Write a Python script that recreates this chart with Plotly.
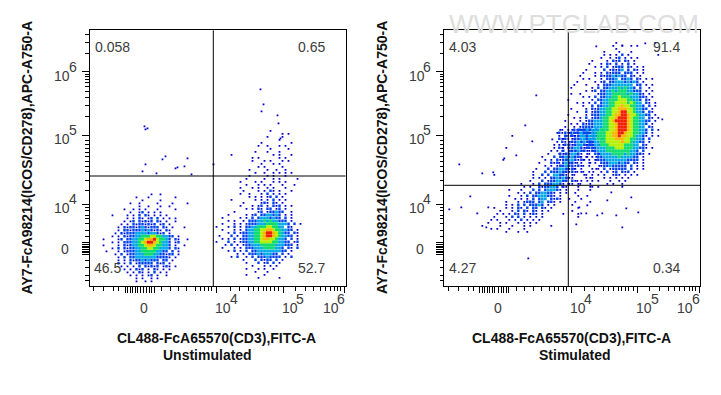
import plotly.graph_objects as go

# ---- Density: digits are colour levels (1 sparse blue .. 7 red), '.' is empty ----
UNSTIM_NEG = [
"..................1..1.........",
".............1...1........1....",
"...............1.....1.........",
"...........1..1.....1....1....1",
"..............1..1...1..1......",
".........1..1.1.1...1.....1....",
"...........1..12.1.1.1.........",
".....1....1.1.2.21.1.1.1.......",
"..........1.1.21.12.2.1.1.1....",
".........1.12.21212.21.1..1....",
"........1.1.21221212.12.1......",
".......1.212212321222.21.1...1.",
".......1.2212223232121.21......",
"......1.212223333233212.1......",
".....1.1.21223344455443322.1...",
"..1....12.223344566754432.21..1",
".....1.1.2223345677654332.12...",
"..1....1.2123344566544332.1..1.",
".....1.2.2122334455443332.21...",
"...1...1.122233444443322.2.1...",
"......1.2.1223334443322122.1...",
".......1.2.22333333322221.1....",
".......1.1.2122323222.22.1.....",
".......2.1.2.122222.212.1......",
"........1.1.1.2.21212.121.1....",
".........1.1.212.1.21.1.1......",
"..........1.1.21.1.2.1.1.......",
"...........1.1.1.12.1..1.......",
".............1.1..1.1..........",
".............1..1.1............",
]
UNSTIM_POS = [
"...................1............",
".......................1.1......",
"..................1....1........",
"......................1.........",
"................1.........1.....",
"...............1..1...1.1.......",
"...................1.....1......",
"..............1...1...1.........",
"......1.............1.1...1.....",
".............1.1......1.1.......",
".............1...1.1...1.1......",
"................1...1.1.........",
"...............1.1.....1........",
"............1.....1..1..1.......",
"..............1..1..1.1.1.1.....",
"............1.....1.1...1.......",
"...........1.....1..1.1.....1...",
".........1....1.1...1.1.1.......",
"...........1...1.1.1...1...1....",
".........1...1.1..1.1...1.......",
"..........1....1.1.21.1...1.....",
".........1..1...1.2.1.1.1.......",
"............1.1.1.12.2.1........",
"......1.......1.1.1.2.1.1.......",
"..........1.....121.21.1........",
".........1...1.12.1.212.1.1.....",
"...........1.1.21.22.12.1.......",
".......1.......12.122322..1.....",
".....1.....1.12.2233232.1.1.....",
"...1.....1.1.2.23332322.2.1.....",
".....1.1..1.2223343433222.1.....",
"...1...1.1.122233344443332.2.1..",
".1...1.2.1.2233444554433.21.....",
"...1...1.1.2334455665443322.1...",
".....1.2.12233445677654322.21...",
"..1...2.1.22334456776543322.1...",
"...1.1.2.1223344566554332.2.1...",
".1...2.1.12233445555443322.12...",
"....1.2.1.12233344444333222.1...",
"...1...1.1.2223334444332.21.2...",
".....1.2.1.2.223333333322.1.....",
"........1.1.2223233322.2.1......",
"......1.2..1.2.22232222.1.2.....",
"..........1...2.2122.2.1........",
"...........1...2.12.2.1.........",
".............1...1.1.1..........",
"...........1...1.1..1...........",
"..............1...1.............",
"...........1.....1..............",
"...............1......1.........",
]
STIM_MAIN = [
"...................1............1..",
"..................1..1..1.1........",
"...................1...............",
"...............1....1...1..........",
"...............1.1.1.2.1.........1.",
"..............1..1.12.1.1.1........",
"...........1....1.212.21.1.........",
"..........1...1.21.2.1.2.1.........",
"............1.1.2.1222.21.1.1......",
".........1.....2.12123.2.21.1......",
"........1...1.1.21222.222.1.1......",
".......1....1.212232322.21.1.......",
"........1.1...1.2223.2232.21.1.1...",
"......1.....1.12.2233323232.1......",
".....1...1...1.2223333333.22.1.1...",
"....1......1.2.22333434332.2..1....",
".........1.12.22334344433222.1.1...",
"....1..1.....1223344444343321.1....",
"........1.1.2.2233445444333221.1...",
"...1.......1.223344455544332.21....",
"......1.1.1.2.23344555545433.21.1..",
"........1..2.2233445565544332.2.1..",
"....1....1.2123344556665543322.1...",
"......1..2.122334455677554332.21...",
"...1.....1.22233445667765543322.1..",
".....1.1.2.122344556777654433.21.1.",
"..1....1.1223334456777765443322.1..",
"....1.1.2122333445567776544332.1...",
"..1..1.1222233344556777654433.21...",
".1.1.2122223334445567776544332.2.1.",
"212122212223344455667765544332.1...",
"1.2121.12233344455667665543321.1.1.",
"2121.1.1.23334445556665544332.2....",
".21.1...1.2233445555565543322.1....",
"1.21.1.1.122334445555544433.21.....",
"21.1.....122233344455544433221.1...",
".1..1.1.1.12233344444444332.2......",
"1.1...1...1.22333344443433221.1....",
".1.1.1.1.1.1.22333334333322.1......",
"...1....1.1.122233333332222.1......",
"1...1.1...1.1.2223332322.21.1......",
".1.1....1.1...122322222.2.1.1......",
"...1.1.....1.1.2.122222.2.1.1......",
"..1...1.1.1...1.2.12.212.1.........",
".1...1...1.1.1.1..121.1.1.1........",
"...1.....1.1...1.1.1.1.1...........",
"..1...1....1.1...1..1.1............",
"...1...1........1.1..1.............",
".1.........1.1.......1.............",
]
STIM_TAIL = [
"............................1...1.2123212.1.",
"...........................1...1.12322121..",
"............1.................1.212332121..",
".............................1..12233212..1",
"...........................1...122323221...",
"..........................1..1.212332121.1.",
"..........1...............1..1.2233212.1...",
".........................1.1.2.2223221.1...",
"........................1...21223321.1...1.",
"......................1...2.22323221.1..1..",
".........1.............1.1.2122332121...1..",
".....................1...212.23221.1..1....",
".......................1.1.122322121.....1.",
"....................1...2.22332121.1....1..",
"...................1...2.222322121.1...1...",
"......1............1..2.2.33221.1...1......",
"...................1.1.1.22323211.....1....",
"..................1...2.1223322.21.1.1.....",
"...............1...1.2.2223321.11.1...1....",
"................1.1..2122332.21...1...1....",
"...........1...1...2.2.233321.1...1...1....",
"..............1.1.2.2233221.1.1..1.........",
"...........1...1.2.22333221.1.....1..1.....",
".............1.1.1.2.233.2121..1...1.......",
"..........1...1.1222.23.221.1....1....1....",
"..........1.1.2.2.22232.1.1.....1..........",
"......1...1.1.21.2.22.21.1........1........",
"........1...1.2.21.21.1.1.......1..........",
".......1.1.1.21.2.121.1......1....1........",
"......1...1.2.2.1.1.1.1...........1........",
".....1.1...1.1.2.1.1.1.....................",
"....1...1.1...1.1.1.1......................",
"..1.....1...1...1.1......1.................",
".....1.1...1....1..........................",
"..........1...1..1.........................",
]

# Isolated events, in display channels (0-256 on each axis)
UNSTIM_EVENT_X = [55, 56, 58, 76, 56, 73, 95, 88, 53, 67, 86, 98, 102, 124, 171, 174, 188, 172, 191, 189]
UNSTIM_EVENT_Y = [160, 157, 158, 130, 122, 127, 120, 119, 115, 113, 118, 128, 112, 122, 197, 182, 171, 175, 148, 163]
STIM_EVENT_X = [15, 38, 49, 60, 81, 72, 88, 92, 108, 5, 17, 26, 33, 44, 84, 42,
                132, 135, 178, 194, 182, 187, 158, 143, 167, 137, 172, 142, 153, 163, 218, 201, 178, 152]
STIM_EVENT_Y = [122, 113, 114, 128, 161, 131, 145, 191, 147, 77, 79, 90, 73, 79, 28, 59,
                62, 79, 59, 74, 78, 89, 73, 81, 94, 73, 71, 73, 71, 86, 167, 243, 241, 240]

X_ZERO_TICKS = [35.5, 37.8, 40.5, 43.2, 45.5, 47.8, 50.5, 53.8, 57.2, 59.5, 62.2, 64.5]
X_DECADE_TICKS = [127.2, 193.5, 254.8]
X_MINOR_TICKS = [3.8, 13.8, 23.8, 28.8, 72.2, 80.5, 88.8, 97.2, 105.5, 110.5, 114.5, 118.8, 122.2,
                 140.5, 149.8, 158.8, 163.8, 168.8, 173.8, 177.2, 181.2, 184.5, 188.8,
                 205.5, 215.5, 223.8, 230.5, 235.5, 240.5, 244.8, 247.8, 251.2]
Y_ZERO_TICKS = [32, 33.5, 35, 37, 38.5, 40, 41.5, 43.5]
Y_DECADE_TICKS = [82.3, 151.3, 214.6]
Y_MINOR_TICKS = [6, 11.3, 19, 26, 49.6, 56.3, 63, 68, 71.3, 76.3, 79,
                 96, 106, 115, 120, 125, 130, 134, 138, 142, 146,
                 170, 181, 189, 195, 200, 204, 207, 210, 212,
                 233, 244, 252]

X_TITLE = "CL488-FcA65570(CD3),FITC-A"
Y_TITLE = "AY7-FcA98214(ICOS/CD278),APC-A750-A"
SUBTITLES = ["Unstimulated", "Stimulated"]
QUADRANT_UNSTIM = ["0.058", "0.65", "46.5", "52.7"]
QUADRANT_STIM = ["4.03", "91.4", "4.27", "0.34"]
GATE_UNSTIM = (123.8, 110.3)
GATE_STIM = (124, 101)

W, H = 721, 395
PANELS = [(89.5, 345.5), (444.3, 700.3)]
TOP, BOTTOM = 30.3, 286.3
CELL = 3
LEVEL_COLOR = {1: "#0000d0", 2: "#0040f0", 3: "#00a8e8", 4: "#10dc70", 5: "#b4f000", 6: "#ffb400", 7: "#f01e00"}
LEVEL_SIZE = {1: 1.8, 2: 2.4, 3: 2.8, 4: 3.1, 5: 3.1, 6: 3.1, 7: 3.1}


def px(x):
    return x / W


def py(y):
    return 1 - y / H


def density_cells(rows, left, top):
    cells = {k: ([], []) for k in LEVEL_COLOR}
    for r, row in enumerate(rows):
        for c, ch in enumerate(row):
            if ch != ".":
                cells[int(ch)][0].append(left + c * CELL)
                cells[int(ch)][1].append(top - r * CELL)
    return cells


fig = go.Figure()


def add_density(blocks, events, xa, ya):
    merged = {k: ([], []) for k in LEVEL_COLOR}
    merged[1][0].extend(events[0])
    merged[1][1].extend(events[1])
    for rows, left, top in blocks:
        cells = density_cells(rows, left, top)
        for k in merged:
            merged[k][0].extend(cells[k][0])
            merged[k][1].extend(cells[k][1])
    for k in sorted(merged):
        fig.add_trace(go.Scatter(x=merged[k][0], y=merged[k][1], mode="markers", xaxis=xa, yaxis=ya,
                                 showlegend=False, hoverinfo="skip",
                                 marker=dict(symbol="square", size=LEVEL_SIZE[k], color=LEVEL_COLOR[k],
                                             line=dict(width=0))))


add_density([(UNSTIM_NEG, 8, 92), (UNSTIM_POS, 124, 155.5)], (UNSTIM_EVENT_X, UNSTIM_EVENT_Y), "x", "y")
add_density([(STIM_TAIL, 32, 156.5), (STIM_MAIN, 115, 243.5)], (STIM_EVENT_X, STIM_EVENT_Y), "x2", "y2")

axis_common = dict(range=[0, 256], showgrid=False, zeroline=False, showline=True, linecolor="black", linewidth=1,
                   mirror=True, ticks="outside", showticklabels=False, tickcolor="black")
x_axis = dict(axis_common, tickmode="array", tickvals=X_ZERO_TICKS + X_DECADE_TICKS, ticklen=6, tickwidth=1.2,
              minor=dict(tickmode="array", tickvals=X_MINOR_TICKS, ticks="outside", ticklen=3.5, tickwidth=1,
                         tickcolor="black", showgrid=False))
y_axis = dict(axis_common, tickmode="array", tickvals=Y_ZERO_TICKS + Y_DECADE_TICKS, ticklen=7, tickwidth=1.2,
              minor=dict(tickmode="array", tickvals=Y_MINOR_TICKS, ticks="outside", ticklen=3.5, tickwidth=1,
                         tickcolor="black", showgrid=False))

ann = []
TEXT = "#3c3c3c"


def label(x, y, text, anchor="center", size=14, color=TEXT, bold=False, angle=0):
    ann.append(dict(xref="paper", yref="paper", x=px(x), y=py(y), text=f"<b>{text}</b>" if bold else text,
                    showarrow=False, xanchor=anchor, yanchor="middle", textangle=angle, borderpad=0, borderwidth=0,
                    font=dict(family="Liberation Sans, Arial, sans-serif", size=size, color=color)))


def power(x, y, n):
    label(x, y, "10", "left")
    label(x + 14.5, y - 9, str(n), "left")


for i, (left, right) in enumerate(PANELS):
    dx = left - PANELS[0][0]
    label(143.5 + dx, 308, "0")
    power(215 + dx, 308, 4)
    power(281.5 + dx, 308, 5)
    power(322.5 + dx, 308, 6)
    power(54 + dx, 76, 6)
    power(54 + dx, 139, 5)
    power(54 + dx, 208, 4)
    label(69 + dx, 249, "0", "right")
    q = QUADRANT_UNSTIM if i == 0 else QUADRANT_STIM
    label(94.5 + dx, 47, q[0], "left")
    label(325 + dx, 47, q[1], "right")
    label(94 + dx, 268, q[2], "left")
    label(325 + dx, 268, q[3], "right")
    label(217 + dx, 338, X_TITLE, size=14, color="#111111", bold=True)
    label(207 if i == 0 else 575, 355, SUBTITLES[i], size=14, color="#111111", bold=True)
    label(27 + (dx - 0.2), 157.5, Y_TITLE, size=14, color="#111111", bold=True, angle=-90)
label(574, 24, "WWW.PTGLAB.COM", size=26, color="#dedede")

shapes = []
for (gx, gy), xr, yr in ((GATE_UNSTIM, "x", "y"), (GATE_STIM, "x2", "y2")):
    shapes.append(dict(type="line", xref=xr, yref="paper", x0=gx, x1=gx, y0=py(BOTTOM), y1=py(TOP),
                       line=dict(color="black", width=1)))
    shapes.append(dict(type="line", xref="paper", yref=yr, y0=gy, y1=gy, x0=px(PANELS[0 if xr == "x" else 1][0]),
                       x1=px(PANELS[0 if xr == "x" else 1][1]), line=dict(color="black", width=1)))

fig.update_layout(
    width=W, height=H, autosize=False, margin=dict(l=0, r=0, t=0, b=0),
    paper_bgcolor="white", plot_bgcolor="white", showlegend=False,
    font=dict(family="Liberation Sans, Arial, sans-serif"),
    xaxis=dict(x_axis, domain=[px(PANELS[0][0]), px(PANELS[0][1])], anchor="y"),
    yaxis=dict(y_axis, domain=[py(BOTTOM), py(TOP)], anchor="x"),
    xaxis2=dict(x_axis, domain=[px(PANELS[1][0]), px(PANELS[1][1])], anchor="y2"),
    yaxis2=dict(y_axis, domain=[py(BOTTOM), py(TOP)], anchor="x2"),
    annotations=ann, shapes=shapes,
)
fig.write_html("out.html", config={"displayModeBar": False},
               post_script="document.body.style.margin='0';")
